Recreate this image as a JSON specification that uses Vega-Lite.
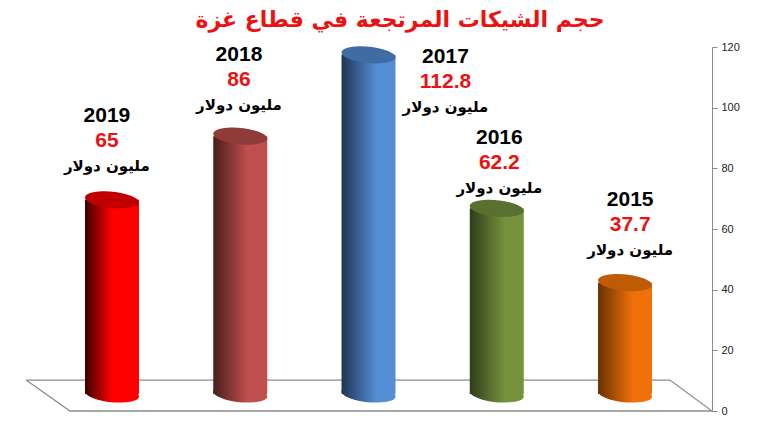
{
  "$schema": "https://vega.github.io/schema/vega-lite/v6.json",
  "width": 712,
  "height": 364,
  "autosize": "none",
  "padding": {"left": 0, "top": 47, "right": 48, "bottom": 15},
  "background": "white",
  "title": {
    "text": "حجم الشيكات المرتجعة في قطاع غزة",
    "color": "#ee1111",
    "font": "DejaVu Sans",
    "fontSize": 22,
    "fontWeight": "bold",
    "anchor": "middle",
    "dx": 44,
    "offset": 9
  },
  "datasets": {
    "bars": [
      {"year": "2019", "slot": 1, "value": 65, "unit": "مليون دولار", "labelSlot": 0.96, "labelAt": 97.3},
      {"year": "2018", "slot": 2, "value": 86, "unit": "مليون دولار", "labelSlot": 1.99, "labelAt": 117.4},
      {"year": "2017", "slot": 3, "value": 112.8, "unit": "مليون دولار", "labelSlot": 3.6, "labelAt": 116.7},
      {"year": "2016", "slot": 4, "value": 62.2, "unit": "مليون دولار", "labelSlot": 4.02, "labelAt": 90},
      {"year": "2015", "slot": 5, "value": 37.7, "unit": "مليون دولار", "labelSlot": 5.04, "labelAt": 69.6}
    ],
    "floor": [
      {"step": 1, "slot": 0.33, "level": 10.2},
      {"step": 2, "slot": 5.35, "level": 10.2},
      {"step": 3, "slot": 5.678, "level": 0},
      {"step": 4, "slot": 0.672, "level": 0},
      {"step": 5, "slot": 0.33, "level": 10.2}
    ]
  },
  "data": {"name": "bars"},
  "encoding": {
    "x": {"field": "slot", "type": "quantitative", "scale": {"domain": [0.1267, 5.678], "nice": false, "zero": false, "padding": 0}, "axis": null},
    "y": {
      "type": "quantitative",
      "scale": {"domain": [0, 120], "nice": false, "padding": 0},
      "axis": {
        "orient": "right",
        "title": null,
        "values": [0, 20, 40, 60, 80, 100, 120],
        "grid": false,
        "domainColor": "#8c8c8c",
        "tickColor": "#8c8c8c",
        "tickSize": 5,
        "labelFont": "Liberation Sans",
        "labelFontSize": 11,
        "labelColor": "#222222",
        "labelPadding": 4
      }
    }
  },
  "layer": [
    {
      "data": {"name": "floor"},
      "mark": {"type": "line", "color": "#8c8c8c", "strokeWidth": 1.3},
      "encoding": {
        "y": {"field": "level", "type": "quantitative"},
        "order": {"field": "step", "type": "quantitative"}
      }
    },
    {
      "transform": [{"filter": "datum.year == '2019'"}],
      "layer": [
        {
          "mark": {"type": "point", "filled": true, "opacity": 1, "size": 2916, "yOffset": -17, "shape": "M-1,-0.1A1.005,0.3 5.7 1 1 1,0.1A1.005,0.3 5.7 1 1 -1,-0.1Z",
            "color": {"gradient": "linear", "x1": 0, "y1": 0, "x2": 1, "y2": 0, "stops": [{"offset": 0, "color": "#3c0000"}, {"offset": 0.5, "color": "#ff0000"}, {"offset": 1, "color": "#ff0000"}]}},
          "encoding": {"y": {"datum": 0}}
        },
        {
          "mark": {"type": "bar", "orient": "vertical", "width": 54, "yOffset": -14, "y2Offset": -17,
            "color": {"gradient": "linear", "x1": 0, "y1": 0, "x2": 1, "y2": 0, "stops": [{"offset": 0, "color": "#3c0000"}, {"offset": 0.5, "color": "#ff0000"}, {"offset": 1, "color": "#ff0000"}]}},
          "encoding": {"y": {"field": "value", "type": "quantitative"}, "y2": {"datum": 0}}
        }
      ]
    },
    {
      "transform": [{"filter": "datum.year == '2018'"}],
      "layer": [
        {
          "mark": {"type": "point", "filled": true, "opacity": 1, "size": 2916, "yOffset": -17, "shape": "M-1,-0.1A1.005,0.3 5.7 1 1 1,0.1A1.005,0.3 5.7 1 1 -1,-0.1Z",
            "color": {"gradient": "linear", "x1": 0, "y1": 0, "x2": 1, "y2": 0, "stops": [{"offset": 0, "color": "#4a1f1d"}, {"offset": 0.65, "color": "#c0504d"}, {"offset": 1, "color": "#c0504d"}]}},
          "encoding": {"y": {"datum": 0}}
        },
        {
          "mark": {"type": "bar", "orient": "vertical", "width": 54, "yOffset": -14, "y2Offset": -17,
            "color": {"gradient": "linear", "x1": 0, "y1": 0, "x2": 1, "y2": 0, "stops": [{"offset": 0, "color": "#4a1f1d"}, {"offset": 0.65, "color": "#c0504d"}, {"offset": 1, "color": "#c0504d"}]}},
          "encoding": {"y": {"field": "value", "type": "quantitative"}, "y2": {"datum": 0}}
        }
      ]
    },
    {
      "transform": [{"filter": "datum.year == '2017'"}],
      "layer": [
        {
          "mark": {"type": "point", "filled": true, "opacity": 1, "size": 2916, "yOffset": -17, "shape": "M-1,-0.1A1.005,0.3 5.7 1 1 1,0.1A1.005,0.3 5.7 1 1 -1,-0.1Z",
            "color": {"gradient": "linear", "x1": 0, "y1": 0, "x2": 1, "y2": 0, "stops": [{"offset": 0, "color": "#1f3552"}, {"offset": 0.65, "color": "#558ed5"}, {"offset": 1, "color": "#558ed5"}]}},
          "encoding": {"y": {"datum": 0}}
        },
        {
          "mark": {"type": "bar", "orient": "vertical", "width": 54, "yOffset": -14, "y2Offset": -17,
            "color": {"gradient": "linear", "x1": 0, "y1": 0, "x2": 1, "y2": 0, "stops": [{"offset": 0, "color": "#1f3552"}, {"offset": 0.65, "color": "#558ed5"}, {"offset": 1, "color": "#558ed5"}]}},
          "encoding": {"y": {"field": "value", "type": "quantitative"}, "y2": {"datum": 0}}
        }
      ]
    },
    {
      "transform": [{"filter": "datum.year == '2016'"}],
      "layer": [
        {
          "mark": {"type": "point", "filled": true, "opacity": 1, "size": 2916, "yOffset": -17, "shape": "M-1,-0.1A1.005,0.3 5.7 1 1 1,0.1A1.005,0.3 5.7 1 1 -1,-0.1Z",
            "color": {"gradient": "linear", "x1": 0, "y1": 0, "x2": 1, "y2": 0, "stops": [{"offset": 0, "color": "#2f3d1a"}, {"offset": 0.65, "color": "#76923c"}, {"offset": 1, "color": "#76923c"}]}},
          "encoding": {"y": {"datum": 0}}
        },
        {
          "mark": {"type": "bar", "orient": "vertical", "width": 54, "yOffset": -14, "y2Offset": -17,
            "color": {"gradient": "linear", "x1": 0, "y1": 0, "x2": 1, "y2": 0, "stops": [{"offset": 0, "color": "#2f3d1a"}, {"offset": 0.65, "color": "#76923c"}, {"offset": 1, "color": "#76923c"}]}},
          "encoding": {"y": {"field": "value", "type": "quantitative"}, "y2": {"datum": 0}}
        }
      ]
    },
    {
      "transform": [{"filter": "datum.year == '2015'"}],
      "layer": [
        {
          "mark": {"type": "point", "filled": true, "opacity": 1, "size": 2916, "yOffset": -17, "shape": "M-1,-0.1A1.005,0.3 5.7 1 1 1,0.1A1.005,0.3 5.7 1 1 -1,-0.1Z",
            "color": {"gradient": "linear", "x1": 0, "y1": 0, "x2": 1, "y2": 0, "stops": [{"offset": 0, "color": "#6a3200"}, {"offset": 0.65, "color": "#f0700a"}, {"offset": 1, "color": "#f0700a"}]}},
          "encoding": {"y": {"datum": 0}}
        },
        {
          "mark": {"type": "bar", "orient": "vertical", "width": 54, "yOffset": -14, "y2Offset": -17,
            "color": {"gradient": "linear", "x1": 0, "y1": 0, "x2": 1, "y2": 0, "stops": [{"offset": 0, "color": "#6a3200"}, {"offset": 0.65, "color": "#f0700a"}, {"offset": 1, "color": "#f0700a"}]}},
          "encoding": {"y": {"field": "value", "type": "quantitative"}, "y2": {"datum": 0}}
        }
      ]
    },
    {
      "mark": {"type": "point", "filled": true, "opacity": 1, "size": 2916, "yOffset": -14, "shape": "M-1,-0.1A1.005,0.3 5.7 1 1 1,0.1A1.005,0.3 5.7 1 1 -1,-0.1Z"},
      "encoding": {
        "y": {"field": "value", "type": "quantitative"},
        "color": {
          "field": "year",
          "type": "nominal",
          "legend": null,
          "scale": {
            "domain": ["2019", "2018", "2017", "2016", "2015"],
            "range": ["#c00000", "#8f3b39", "#3f6ca3", "#5a7030", "#bf5a05"]
          }
        }
      }
    },
    {
      "mark": {"type": "text", "font": "Liberation Sans", "fontWeight": "bold", "fontSize": 21, "color": "black", "align": "center", "baseline": "middle"},
      "encoding": {
        "x": {"field": "labelSlot", "type": "quantitative"},
        "y": {"field": "labelAt", "type": "quantitative"},
        "text": {"field": "year", "type": "nominal"}
      }
    },
    {
      "mark": {"type": "text", "font": "Liberation Sans", "fontWeight": "bold", "fontSize": 21, "color": "#ee1111", "align": "center", "baseline": "middle", "yOffset": 25},
      "encoding": {
        "x": {"field": "labelSlot", "type": "quantitative"},
        "y": {"field": "labelAt", "type": "quantitative"},
        "text": {"field": "value", "type": "nominal"}
      }
    },
    {
      "mark": {"type": "text", "font": "DejaVu Sans", "fontWeight": "bold", "fontSize": 15, "color": "black", "align": "center", "baseline": "middle", "yOffset": 50},
      "encoding": {
        "x": {"field": "labelSlot", "type": "quantitative"},
        "y": {"field": "labelAt", "type": "quantitative"},
        "text": {"field": "unit", "type": "nominal"}
      }
    }
  ],
  "config": {"view": {"stroke": null}}
}
